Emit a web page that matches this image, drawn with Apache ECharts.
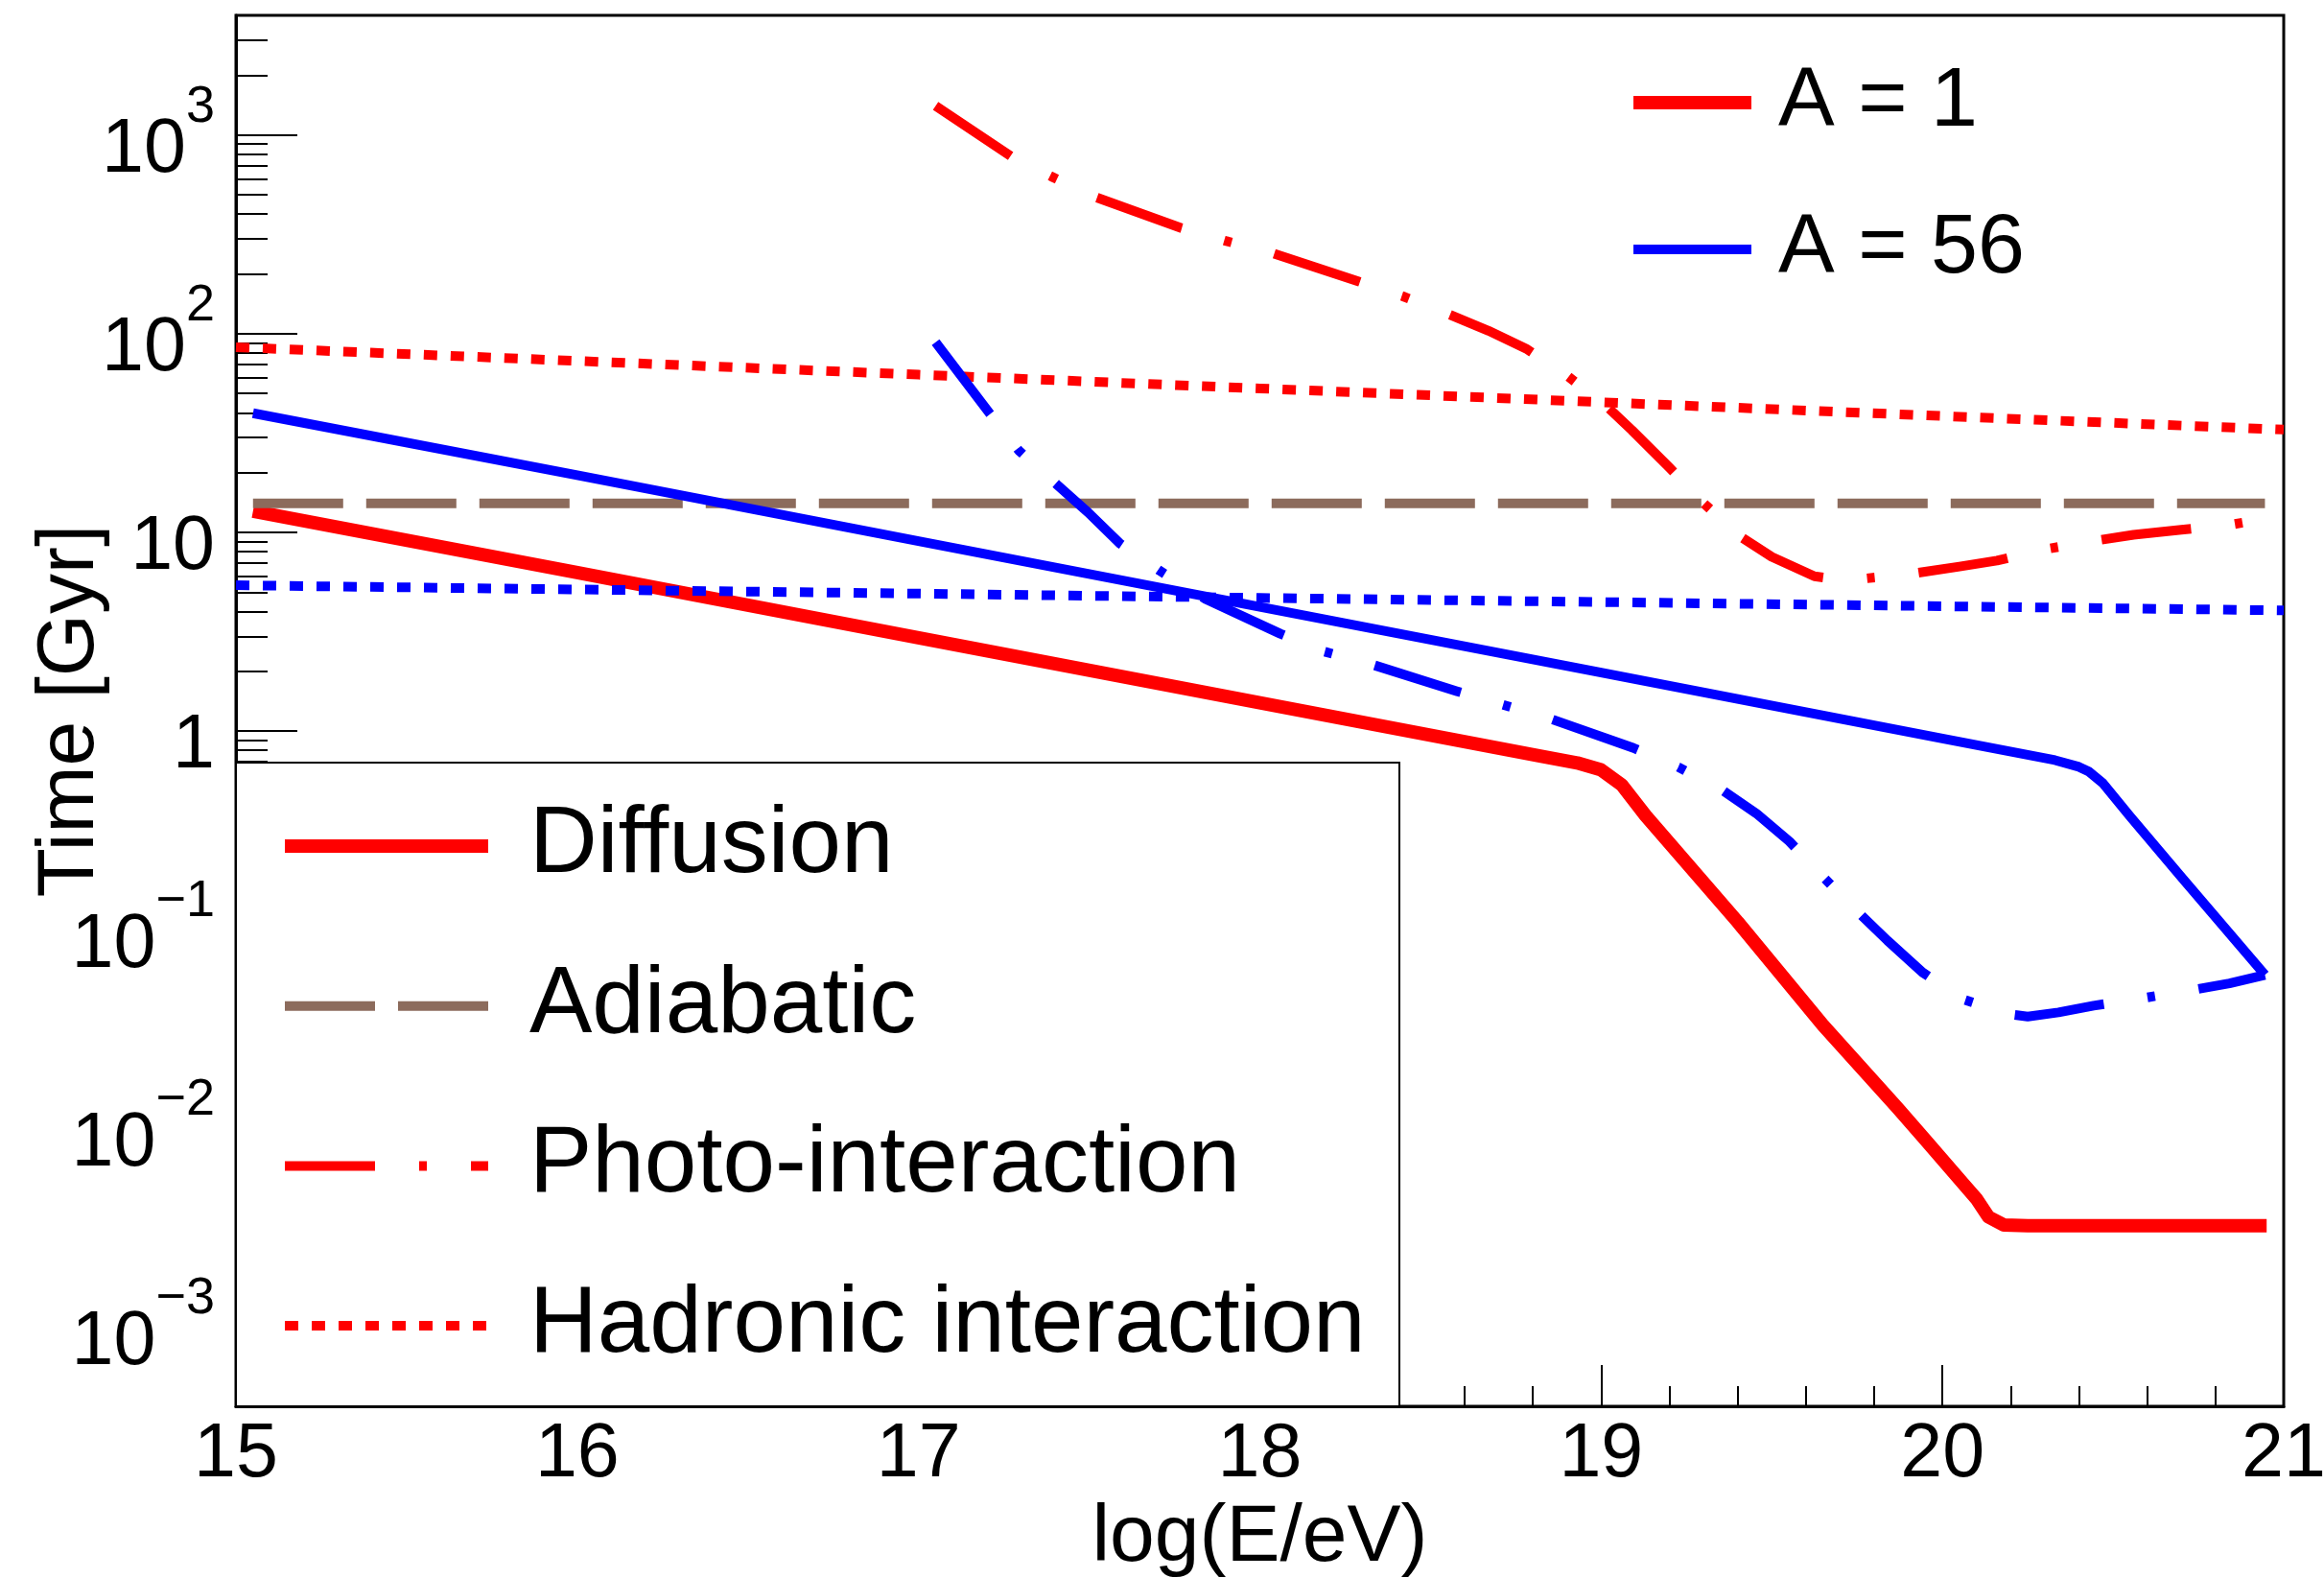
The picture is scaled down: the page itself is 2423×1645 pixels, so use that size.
<!DOCTYPE html>
<html>
<head>
<meta charset="utf-8">
<script src="https://cdn.jsdelivr.net/npm/echarts@6/dist/echarts.min.js"></script>
<style>
html,body{margin:0;padding:0;background:#ffffff;}
#c{width:2423px;height:1645px;}
</style>
</head>
<body>
<div id="c"></div>
<script>
// ---------------- data ----------------
const xTickValues = [15, 16, 17, 18, 19, 20, 21];
const yMajorTicks = [0.001, 0.01, 0.1, 1, 10, 100, 1000];
const yMinorTicks = [
  0.0005, 0.0006, 0.0007, 0.0008, 0.0009,
  0.002, 0.003, 0.004, 0.005, 0.006, 0.007, 0.008, 0.009,
  0.02, 0.03, 0.04, 0.05, 0.06, 0.07, 0.08, 0.09,
  0.2, 0.3, 0.4, 0.5, 0.6, 0.7, 0.8, 0.9,
  2, 3, 4, 5, 6, 7, 8, 9,
  20, 30, 40, 50, 60, 70, 80, 90,
  200, 300, 400, 500, 600, 700, 800, 900,
  2000, 3000
];
const legendMain = ['Diffusion', 'Adiabatic', 'Photo-interaction', 'Hadronic interaction'];
const legendMass = ['A = 1', 'A = 56'];

// Diffusion, A = 1
const diffA1X = [15.05, 16.0, 17.0, 18.0, 18.81, 18.93, 19.0, 19.06, 19.13, 19.4, 19.65, 19.87, 19.95, 20.06, 20.1, 20.135, 20.18, 20.25, 20.95];
const diffA1Y = [12.8, 6.27, 2.95, 1.39, 0.755, 0.692, 0.638, 0.537, 0.376, 0.1096, 0.0331, 0.0126, 0.00877, 0.0053, 0.00442, 0.00359, 0.00327, 0.00324, 0.00324];

// Diffusion, A = 56
const diffA56X = [15.05, 16, 17, 18, 19, 20, 20.33, 20.40, 20.43, 20.47, 20.55, 20.70, 20.945];
const diffA56Y = [39.8, 19.4, 9.04, 4.22, 1.97, 0.918, 0.714, 0.661, 0.624, 0.547, 0.372, 0.1845, 0.0593];

// Adiabatic
const adiaX = [15.05, 20.945];
const adiaY = [14.0, 14.0];

// Photo-interaction, A = 1
const photoA1X = [17.05, 17.27, 17.39, 17.52, 17.77, 17.90, 18.04, 18.29, 18.42, 18.55, 18.67, 18.78, 18.90, 19.015, 19.09, 19.20, 19.30, 19.40, 19.50, 19.625, 19.70, 19.77, 19.91, 20.05, 20.16, 20.30, 20.44, 20.56, 20.70, 20.84, 20.88];
const photoA1Y = [1400, 783, 617, 486, 340, 293, 253, 183, 154, 126, 103.5, 84.1, 61.5, 43.3, 32.7, 21.2, 14.06, 9.73, 7.53, 6.01, 5.78, 5.85, 6.19, 6.73, 7.21, 8.22, 9.04, 9.73, 10.3, 10.9, 11.2];

// Photo-interaction, A = 56
const photoA56X = [17.05, 17.208, 17.294, 17.404, 17.497, 17.591, 17.705, 17.841, 18.06, 18.19, 18.33, 18.576, 18.847, 19.095, 19.226, 19.35, 19.455, 19.552, 19.654, 19.75, 19.839, 19.942, 20.06, 20.19, 20.25, 20.34, 20.443, 20.59, 20.723, 20.841, 20.945];
const photoA56Y = [90.6, 39.8, 25.8, 17.5, 12.6, 8.77, 6.44, 4.62, 3.09, 2.51, 2.16, 1.589, 1.161, 0.822, 0.659, 0.511, 0.385, 0.278, 0.182, 0.124, 0.0883, 0.0610, 0.0447, 0.0377, 0.0366, 0.0384, 0.0415, 0.0454, 0.0495, 0.0538, 0.0593];

// Hadronic interaction
const hadX = [15, 16, 17, 18, 19, 20, 21];
const hadA1Y = [85.5, 72.9, 62.2, 53.0, 45.2, 38.5, 32.9];
const hadA56Y = [5.42, 5.16, 4.92, 4.68, 4.46, 4.25, 4.05];

// ---------------- chart ----------------
const RED = '#ff0000', BLUE = '#0000ff', BROWN = '#8c6b5c';
const FONT = 'Liberation Sans';
const pairs = (xs, ys) => xs.map((x, i) => [x, ys[i]]);
const DASHDOT = [94, 46, 8, 46];
const DASH = [94, 24];
const DOT = [14, 14];

function mkLine(name, xs, ys, color, width, type) {
  return {
    name: name, type: 'line', data: pairs(xs, ys),
    symbol: 'none', showSymbol: false, smooth: false, silent: true,
    xAxisIndex: 0, yAxisIndex: 0,
    lineStyle: { color: color, width: width, type: type, join: 'round', cap: 'butt' },
    itemStyle: { color: color },
    emphasis: { disabled: true }
  };
}

function yLabel(v) {
  const e = Math.round(Math.log10(v));
  if (e === 0) return '{b|1}';
  if (e === 1) return '{b|10}';
  const s = e < 0 ? '\u2212' + (-e) : String(e);
  return '{b|10}{s|' + s + '}';
}

const chart = echarts.init(document.getElementById('c'), null, { renderer: 'canvas', width: 2423, height: 1645 });

const option = {
  animation: false,
  backgroundColor: '#ffffff',
  textStyle: { fontFamily: FONT, color: '#000' },
  grid: { left: 246, right: 42, top: 16, bottom: 179, containLabel: false, outerBoundsMode: 'none',
    show: true, borderColor: '#000', borderWidth: 3, backgroundColor: 'transparent' },
  xAxis: [{
    type: 'value', min: 15, max: 21, interval: 1, position: 'bottom',
    axisLine: { show: true, onZero: false, lineStyle: { color: '#000', width: 3 } },
    axisTick: { show: true, inside: true, length: 43, lineStyle: { color: '#000', width: 2 } },
    minorTick: { show: true, splitNumber: 5, length: 21, lineStyle: { color: '#000', width: 2 } },
    axisLabel: { show: true, fontSize: 79, margin: 12, color: '#000', fontFamily: FONT, hideOverlap: false, showMinLabel: true, showMaxLabel: true,
      formatter: v => (xTickValues.indexOf(Math.round(v)) >= 0 ? String(Math.round(v)) : '') },
    splitLine: { show: false }, minorSplitLine: { show: false },
    name: 'log(E/eV)', nameLocation: 'middle', nameGap: 96,
    nameTextStyle: { fontSize: 84, color: '#000', fontFamily: FONT }
  }],
  yAxis: [{
    type: 'log', logBase: 10, min: 4e-4, max: 4e3, position: 'left',
    axisLine: { show: true, onZero: false, lineStyle: { color: '#000', width: 3 } },
    axisTick: { show: true, inside: true, length: 64, customValues: yMajorTicks, lineStyle: { color: '#000', width: 2 } },
    minorTick: { show: false },
    axisLabel: { show: true, customValues: yMajorTicks, formatter: yLabel, margin: 22, color: '#000', fontFamily: FONT, hideOverlap: false,
      rich: {
        b: { fontSize: 79, lineHeight: 112, verticalAlign: 'bottom', fontFamily: FONT, color: '#000' },
        s: { fontSize: 54, lineHeight: 45, verticalAlign: 'top', fontFamily: FONT, color: '#000' }
      } },
    splitLine: { show: false },
    name: 'Time [Gyr]', nameLocation: 'middle', nameRotate: 90, nameGap: 130, nameMoveOverlap: false,
    nameTextStyle: { fontSize: 84, color: '#000', fontFamily: FONT }
  }, {
    type: 'log', logBase: 10, min: 4e-4, max: 4e3, position: 'left', offset: 0,
    axisLine: { show: false },
    axisTick: { show: true, inside: true, length: 33, customValues: yMinorTicks, lineStyle: { color: '#000', width: 2 } },
    axisLabel: { show: false },
    splitLine: { show: false }, minorTick: { show: false }
  }],
  legend: [{
    id: 'main', orient: 'vertical', left: 290, top: 832, padding: 0,
    itemWidth: 212, itemHeight: 20, itemGap: 66.7, selectedMode: false, z: 110,
    data: legendMain,
    formatter: n => '{g|}' + n,
    textStyle: { fontSize: 98, lineHeight: 100, color: '#000', fontFamily: FONT, rich: { g: { width: 38 } } },
    lineStyle: { width: 'inherit' },
    itemStyle: { opacity: 0, borderWidth: 0 }
  }, {
    id: 'mass', orient: 'vertical', left: 1696, top: 62, padding: 0,
    itemWidth: 123, itemHeight: 20, itemGap: 63, selectedMode: false, z: 110,
    data: legendMass,
    formatter: n => '{g|}' + n,
    textStyle: { fontSize: 88, lineHeight: 90, color: '#000', fontFamily: FONT, rich: { g: { width: 23 } } },
    lineStyle: { width: 'inherit' },
    itemStyle: { opacity: 0, borderWidth: 0 }
  }],
  graphic: [{
    type: 'rect', z: 100, silent: true,
    shape: { x: 246, y: 795, width: 1213, height: 671 },
    style: { fill: '#ffffff', stroke: '#000000', lineWidth: 2 }
  }],
  series: [
    mkLine('Diffusion', diffA1X, diffA1Y, RED, 14, 'solid'),
    mkLine('Adiabatic', adiaX, adiaY, BROWN, 10, DASH),
    mkLine('Photo-interaction', photoA1X, photoA1Y, RED, 10, DASHDOT),
    mkLine('Hadronic interaction', hadX, hadA1Y, RED, 10, DOT),
    mkLine('Diffusion (A = 56)', diffA56X, diffA56Y, BLUE, 10, 'solid'),
    mkLine('Photo-interaction (A = 56)', photoA56X, photoA56Y, BLUE, 10, DASHDOT),
    mkLine('Hadronic interaction (A = 56)', hadX, hadA56Y, BLUE, 10, DOT),
    { name: 'A = 1', type: 'line', data: [], symbol: 'none', lineStyle: { color: RED, width: 14 }, itemStyle: { color: RED } },
    { name: 'A = 56', type: 'line', data: [], symbol: 'none', lineStyle: { color: BLUE, width: 10 }, itemStyle: { color: BLUE } }
  ]
};
chart.setOption(option);
</script>
</body>
</html>
